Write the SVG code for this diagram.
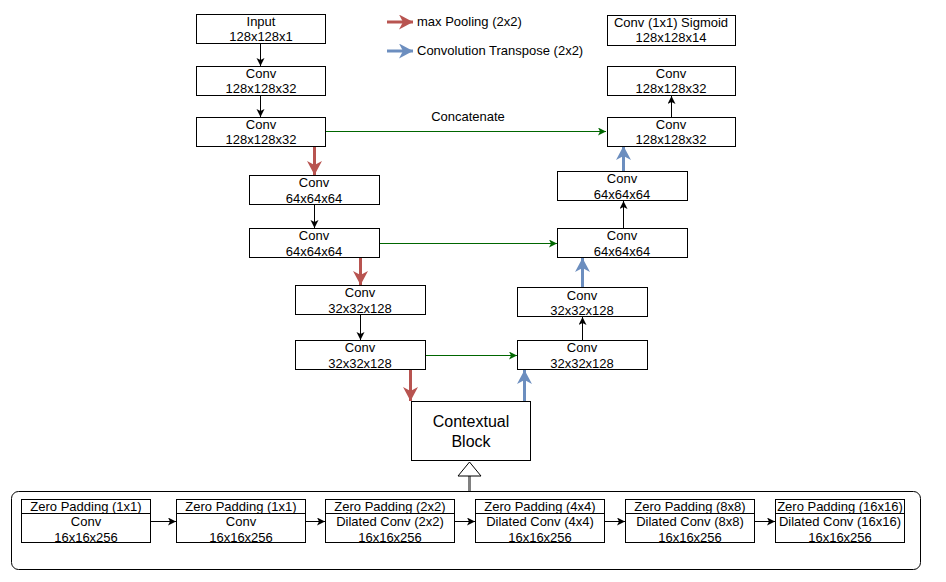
<svg xmlns="http://www.w3.org/2000/svg" width="946" height="582" viewBox="0 0 946 582">
<style>
text{font-family:"Liberation Sans",Arial,sans-serif;font-size:13px;fill:#000;text-anchor:middle}
.box{fill:#fff;stroke:#000;stroke-width:1}
.blk{stroke:#000;stroke-width:1;fill:none}
.grn{stroke:#006600;stroke-width:1;fill:none}
.red{stroke:#b85450;stroke-width:3;fill:none}
.blu{stroke:#6c8ebf;stroke-width:3;fill:none}
</style>
<defs>
<marker id="ab" markerUnits="userSpaceOnUse" markerWidth="10" markerHeight="10" refX="8" refY="4" orient="auto"><path d="M0,0 L8,4 L0,8 L2,4 z" fill="#000"/></marker>
<marker id="ag" markerUnits="userSpaceOnUse" markerWidth="10" markerHeight="10" refX="8" refY="4" orient="auto"><path d="M0,0 L8,4 L0,8 L2,4 z" fill="#006600"/></marker>
<marker id="ar" markerUnits="userSpaceOnUse" markerWidth="16" markerHeight="16" refX="14" refY="7.5" orient="auto"><path d="M0,0 L14,7.5 L0,15 L4,7.5 z" fill="#b85450"/></marker>
<marker id="au" markerUnits="userSpaceOnUse" markerWidth="16" markerHeight="16" refX="14" refY="7.5" orient="auto"><path d="M0,0 L14,7.5 L0,15 L4,7.5 z" fill="#6c8ebf"/></marker>
</defs>
<rect width="946" height="582" fill="#fff"/>

<g id="legend">
<line class="red" x1="387" y1="22" x2="413" y2="22" marker-end="url(#ar)"/>
<text x="417" y="26" style="text-anchor:start">max Pooling (2x2)</text>
<line class="blu" x1="387" y1="51" x2="413" y2="51" marker-end="url(#au)"/>
<text x="417" y="55" style="text-anchor:start">Convolution Transpose (2x2)</text>
</g>

<g id="connectors">
<line class="blk" x1="260.5" y1="44" x2="260.5" y2="66" marker-end="url(#ab)"/>
<line class="blk" x1="260.5" y1="96" x2="260.5" y2="117" marker-end="url(#ab)"/>
<line class="red" x1="314.5" y1="147" x2="314.5" y2="175" marker-end="url(#ar)"/>
<line class="blk" x1="314.5" y1="205" x2="314.5" y2="228" marker-end="url(#ab)"/>
<line class="red" x1="360.5" y1="258" x2="360.5" y2="285" marker-end="url(#ar)"/>
<line class="blk" x1="360.5" y1="315" x2="360.5" y2="340" marker-end="url(#ab)"/>
<line class="red" x1="410.5" y1="370" x2="410.5" y2="401" marker-end="url(#ar)"/>
<line class="blu" x1="524.5" y1="401" x2="524.5" y2="370" marker-end="url(#au)"/>
<line class="blk" x1="582.5" y1="340" x2="582.5" y2="317" marker-end="url(#ab)"/>
<line class="blu" x1="582.5" y1="287" x2="582.5" y2="258" marker-end="url(#au)"/>
<line class="blk" x1="623.5" y1="228" x2="623.5" y2="201" marker-end="url(#ab)"/>
<line class="blu" x1="623.5" y1="171" x2="623.5" y2="146" marker-end="url(#au)"/>
<line class="blk" x1="671.5" y1="117" x2="671.5" y2="96" marker-end="url(#ab)"/>
<line class="grn" x1="325" y1="131.5" x2="606" y2="131.5" marker-end="url(#ag)"/>
<text x="468" y="121">Concatenate</text>
<line class="grn" x1="379" y1="243.5" x2="557" y2="243.5" marker-end="url(#ag)"/>
<line class="grn" x1="425" y1="355.5" x2="517" y2="355.5" marker-end="url(#ag)"/>
<line x1="469.5" y1="476" x2="469.5" y2="491" stroke="#808080" stroke-width="3"/>
<polygon points="469.5,462 458,476 481,476" fill="#fff" stroke="#000" stroke-width="1"/>
<line class="blk" x1="151" y1="521.5" x2="176" y2="521.5" marker-end="url(#ab)"/>
<line class="blk" x1="306" y1="521.5" x2="325" y2="521.5" marker-end="url(#ab)"/>
<line class="blk" x1="455" y1="521.5" x2="475" y2="521.5" marker-end="url(#ab)"/>
<line class="blk" x1="605" y1="521.5" x2="625" y2="521.5" marker-end="url(#ab)"/>
<line class="blk" x1="755" y1="521.5" x2="775" y2="521.5" marker-end="url(#ab)"/>
</g>

<g id="input"><rect class="box" x="196.5" y="14.5" width="129" height="29"/><text x="261" y="26">Input</text><text x="261" y="41">128x128x1</text></g>
<g id="conv1"><rect class="box" x="196.5" y="66.5" width="129" height="29"/><text x="261" y="78">Conv</text><text x="261" y="93">128x128x32</text></g>
<g id="conv2"><rect class="box" x="196.5" y="117.5" width="129" height="29"/><text x="261" y="129">Conv</text><text x="261" y="144">128x128x32</text></g>
<g id="conv3"><rect class="box" x="249.5" y="175.5" width="130" height="29"/><text x="314" y="187">Conv</text><text x="314" y="203">64x64x64</text></g>
<g id="conv4"><rect class="box" x="249.5" y="228.5" width="130" height="29"/><text x="314" y="240">Conv</text><text x="314" y="256">64x64x64</text></g>
<g id="conv5"><rect class="box" x="295.5" y="285.5" width="130" height="29"/><text x="360" y="297">Conv</text><text x="360" y="313">32x32x128</text></g>
<g id="conv6"><rect class="box" x="295.5" y="340.5" width="130" height="29"/><text x="360" y="352">Conv</text><text x="360" y="368">32x32x128</text></g>
<g id="contextual"><rect class="box" x="411.5" y="401.5" width="119" height="59"/><text x="471" y="427" style="font-size:16px">Contextual</text><text x="471" y="447" style="font-size:16px">Block</text></g>
<g id="conv7"><rect class="box" x="517.5" y="340.5" width="130" height="29"/><text x="582" y="352">Conv</text><text x="582" y="368">32x32x128</text></g>
<g id="conv8"><rect class="box" x="517.5" y="287.5" width="130" height="29"/><text x="582" y="300">Conv</text><text x="582" y="315">32x32x128</text></g>
<g id="conv9"><rect class="box" x="557.5" y="228.5" width="130" height="29"/><text x="622" y="240">Conv</text><text x="622" y="256">64x64x64</text></g>
<g id="conv10"><rect class="box" x="557.5" y="171.5" width="130" height="29"/><text x="622" y="183">Conv</text><text x="622" y="199">64x64x64</text></g>
<g id="conv11"><rect class="box" x="607.5" y="117.5" width="128" height="29"/><text x="671" y="129">Conv</text><text x="671" y="144">128x128x32</text></g>
<g id="conv12"><rect class="box" x="607.5" y="66.5" width="128" height="29"/><text x="671" y="78">Conv</text><text x="671" y="93">128x128x32</text></g>
<g id="sigmoid"><rect class="box" x="607.5" y="15.5" width="128" height="30"/><text x="671" y="27">Conv (1x1) Sigmoid</text><text x="671" y="42">128x128x14</text></g>

<g id="container"><rect x="11.5" y="491.5" width="909" height="78" rx="7" fill="none" stroke="#000" stroke-width="1"/></g>

<g id="b1"><rect class="box" x="21.5" y="499.5" width="129" height="43"/><line class="blk" x1="21.5" y1="513.5" x2="150.5" y2="513.5"/><text x="86" y="511">Zero Padding (1x1)</text><text x="86" y="526">Conv</text><text x="86" y="542">16x16x256</text></g>
<g id="b2"><rect class="box" x="176.5" y="499.5" width="129" height="43"/><line class="blk" x1="176.5" y1="513.5" x2="305.5" y2="513.5"/><text x="241" y="511">Zero Padding (1x1)</text><text x="241" y="526">Conv</text><text x="241" y="542">16x16x256</text></g>
<g id="b3"><rect class="box" x="325.5" y="499.5" width="129" height="43"/><line class="blk" x1="325.5" y1="513.5" x2="454.5" y2="513.5"/><text x="390" y="511">Zero Padding (2x2)</text><text x="390" y="526">Dilated Conv (2x2)</text><text x="390" y="542">16x16x256</text></g>
<g id="b4"><rect class="box" x="475.5" y="499.5" width="129" height="43"/><line class="blk" x1="475.5" y1="513.5" x2="604.5" y2="513.5"/><text x="540" y="511">Zero Padding (4x4)</text><text x="540" y="526">Dilated Conv (4x4)</text><text x="540" y="542">16x16x256</text></g>
<g id="b5"><rect class="box" x="625.5" y="499.5" width="129" height="43"/><line class="blk" x1="625.5" y1="513.5" x2="754.5" y2="513.5"/><text x="690" y="511">Zero Padding (8x8)</text><text x="690" y="526">Dilated Conv (8x8)</text><text x="690" y="542">16x16x256</text></g>
<g id="b6"><rect class="box" x="775.5" y="499.5" width="129" height="43"/><line class="blk" x1="775.5" y1="513.5" x2="904.5" y2="513.5"/><text x="840" y="511">Zero Padding (16x16)</text><text x="840" y="526">Dilated Conv (16x16)</text><text x="840" y="542">16x16x256</text></g>
</svg>
